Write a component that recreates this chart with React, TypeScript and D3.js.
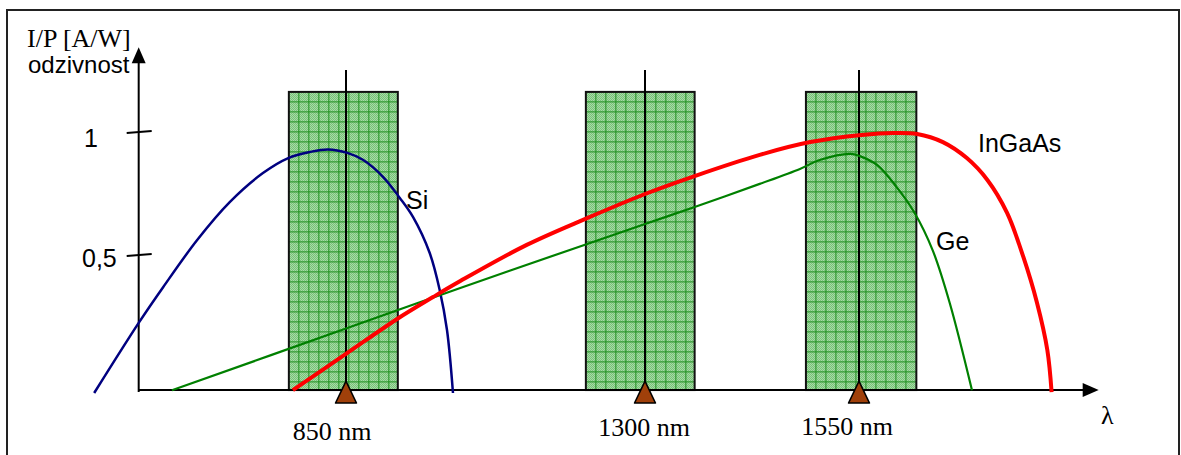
import React from 'react';
import * as d3 from 'd3';

// wavelengths of the three fibre windows [nm]
const windows = [850, 1300, 1550];
const windowLabels = ['850 nm', '1300 nm', '1550 nm'];
const windowBands: [number, number][] = [
  [764, 928],
  [1211, 1358],
  [1488, 1617],
];

// responsivity curves [nm, A/W]
const siCurve: [number, number][] = [
  [471, -0.061], [538, 0.224], [575, 0.37], [626, 0.561], [675, 0.715],
  [725, 0.833], [763, 0.894], [796, 0.919], [823, 0.929], [852, 0.915],
  [876, 0.886], [906, 0.817], [931, 0.732], [951, 0.654], [976, 0.508],
  [991, 0.358], [1002, 0.195], [1011, -0.061],
];
const geCurve: [number, number][] = [
  [588, -0.05], [852, 0.203], [1022, 0.366], [1213, 0.545], [1300, 0.626],
  [1358, 0.695], [1434, 0.789], [1481, 0.85], [1504, 0.886], [1540, 0.911],
  [1551, 0.902], [1571, 0.866], [1594, 0.776], [1615, 0.671], [1636, 0.52],
  [1656, 0.305], [1682, -0.05],
];
const ingaasCurve: [number, number][] = [
  [770, -0.049], [852, 0.102], [927, 0.24], [981, 0.329], [1022, 0.394],
  [1122, 0.541], [1213, 0.65], [1300, 0.748], [1358, 0.821], [1434, 0.907],
  [1493, 0.959], [1553, 0.988], [1590, 0.996], [1618, 0.992], [1648, 0.959],
  [1676, 0.894], [1700, 0.805], [1723, 0.671], [1742, 0.492], [1758, 0.305],
  [1770, 0.114], [1775, -0.057],
];

const yTicks = [0.5, 1];
const yTickLabels = ['0,5', '1'];

const W = 1181,
  H = 455;

export default function App() {
  // the lambda axis is only schematic, so it is piecewise between the windows
  const x = d3.scaleLinear().domain([850, 1300, 1550]).range([346, 645, 859]);
  const y = d3.scaleLinear().domain([0, 1]).range([378, 132]);

  const x0 = x(538); // y axis position
  const yBase = y(-0.049); // x axis position
  const xEnd = x(1830);
  const yEnd = y(1.345);
  const bandTop = y(1.163);
  const lineTop = y(1.252);

  const line = d3
    .line<[number, number]>()
    .x((d) => x(d[0]))
    .y((d) => y(d[1]))
    .curve(d3.curveCatmullRom.alpha(0.5));

  const sans = "'Liberation Sans', Arial, sans-serif";
  const serif = "'Liberation Serif', 'Times New Roman', serif";
  const labelDx = [-14, -1, -12];
  const labelY = [440, 436, 435];

  return (
    <div style={{ position: 'absolute', left: 0, top: 0 }}>
      <svg width={W} height={H} style={{ display: 'block', background: '#fff' }}>
        <defs>
          <pattern id="dither" width={2} height={2} patternUnits="userSpaceOnUse">
            <rect width={2} height={2} fill="#a6daa6" />
            <rect width={1} height={1} fill="#78c278" />
            <rect x={1} y={1} width={1} height={1} fill="#78c278" />
          </pattern>
        </defs>

        {/* frame */}
        <rect x={7} y={10} width={1172} height={460} fill="none" stroke="#222" strokeWidth={2} />

        {/* window bands */}
        {windowBands.map(([a, b], i) => {
          const left = x(a),
            right = x(b);
          const vs = d3.range(left + 10, right - 2, 10);
          const hs = d3.range(bandTop + 10, yBase - 2, 10);
          return (
            <g key={i}>
              <rect x={left} y={bandTop} width={right - left} height={yBase - bandTop} fill="url(#dither)" />
              {vs.map((v) => (
                <line key={'v' + v} x1={v} x2={v} y1={bandTop} y2={yBase} stroke="#1f8f1f" strokeWidth={1} />
              ))}
              {hs.map((h) => (
                <line key={'h' + h} x1={left} x2={right} y1={h} y2={h} stroke="#1f8f1f" strokeWidth={1} />
              ))}
              <rect x={left} y={bandTop} width={right - left} height={yBase - bandTop} fill="none" stroke="#111" strokeWidth={2} />
            </g>
          );
        })}

        {/* window centre lines */}
        {windows.map((w) => (
          <line key={w} x1={x(w)} x2={x(w)} y1={lineTop} y2={yBase} stroke="#000" strokeWidth={2} />
        ))}

        {/* axes */}
        <line x1={x0} x2={x0} y1={yBase + 2} y2={yEnd + 12} stroke="#000" strokeWidth={2} />
        <path d={`M${x0},${yEnd} L${x0 - 7},${yEnd + 16} L${x0 + 7},${yEnd + 16} Z`} fill="#000" />
        <line x1={x0} x2={xEnd - 12} y1={yBase} y2={yBase} stroke="#000" strokeWidth={2} />
        <path d={`M${xEnd},${yBase} L${xEnd - 16},${yBase - 7} L${xEnd - 16},${yBase + 7} Z`} fill="#000" />

        {yTicks.map((t, i) => (
          <g key={t}>
            <line x1={x0 - 12} x2={x0 + 13} y1={y(t) + 1} y2={y(t) - 1} stroke="#000" strokeWidth={2} />
            <text x={t === 1 ? 84 : 82} y={y(t) + (t === 1 ? 15 : 12)} fontFamily={sans} fontSize={25}>
              {yTickLabels[i]}
            </text>
          </g>
        ))}

        {/* curves */}
        <path d={line(siCurve) ?? ''} fill="none" stroke="#000080" strokeWidth={2.5} />
        <path d={line(geCurve) ?? ''} fill="none" stroke="#008000" strokeWidth={2.2} />
        <path d={line(ingaasCurve) ?? ''} fill="none" stroke="#ff0000" strokeWidth={4} />

        {/* window markers */}
        {windows.map((w, i) => (
          <g key={'m' + w}>
            <path
              d={`M${x(w)},${yBase - 9} L${x(w) - 10.5},${yBase + 13} L${x(w) + 10.5},${yBase + 13} Z`}
              fill="#a0400a"
              stroke="#000"
              strokeWidth={1.5}
              strokeLinejoin="round"
            />
            <text x={x(w) + labelDx[i]} y={labelY[i]} textAnchor="middle" fontFamily={serif} fontSize={26}>
              {windowLabels[i]}
            </text>
          </g>
        ))}

        {/* labels */}
        <text x={27} y={47} fontFamily={serif} fontSize={26}>I/P [A/W]</text>
        <text x={28} y={73} fontFamily={sans} fontSize={24}>odzivnost</text>
        <text x={1101} y={424} fontFamily={serif} fontSize={26}>λ</text>
        <text x={406} y={209} fontFamily={sans} fontSize={25}>Si</text>
        <text x={936} y={250} fontFamily={sans} fontSize={25}>Ge</text>
        <text x={978} y={152} fontFamily={sans} fontSize={25}>InGaAs</text>
      </svg>
    </div>
  );
}
